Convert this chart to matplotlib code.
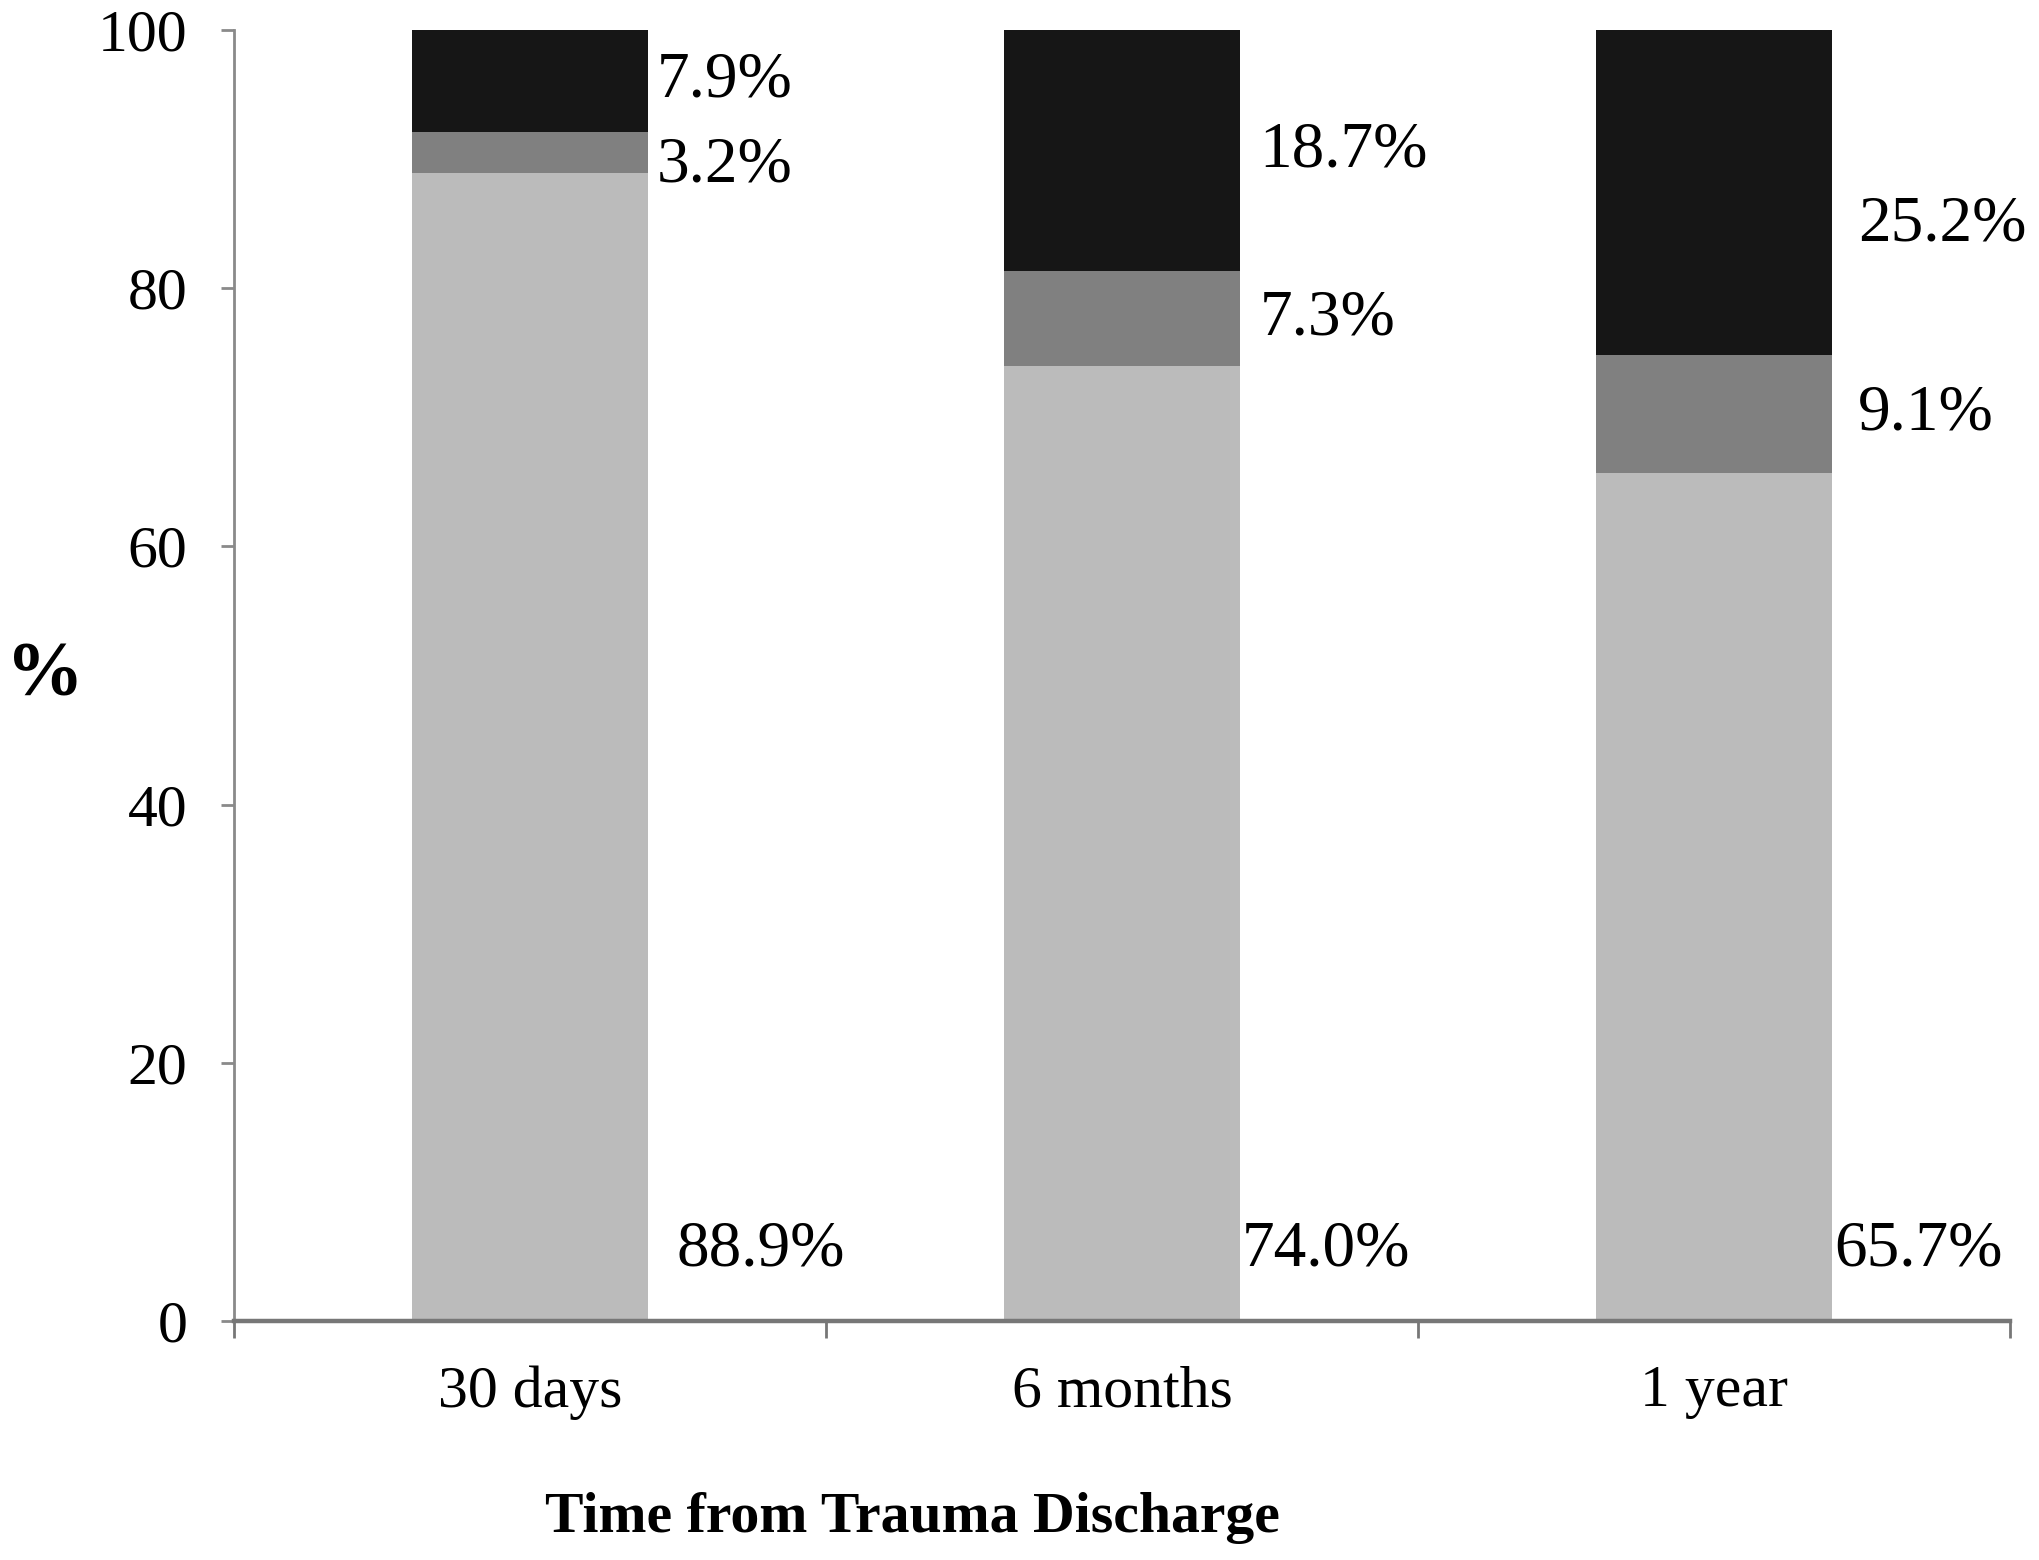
import matplotlib

matplotlib.use("Agg")
import matplotlib.pyplot as plt
import numpy as np

# stacked shares (%) per follow-up time, bottom to top
categories = ["30 days", "6 months", "1 year"]
light_vals = [88.9, 74.0, 65.7]
mid_vals = [3.2, 7.3, 9.1]
dark_vals = [7.9, 18.7, 25.2]
yticks = [0, 20, 40, 60, 80, 100]

plt.rcParams["font.family"] = ["Liberation Serif", "DejaVu Serif"]

fig = plt.figure(figsize=(10.2, 7.8), dpi=200)
ax = fig.add_axes([0.1147, 0.1532, 0.8706, 0.8276])

x = np.arange(len(categories))
light = np.array(light_vals)
mid = np.array(mid_vals)
dark = np.array(dark_vals)
width = 0.4

ax.bar(x, light, width, color="#bbbbbb")
ax.bar(x, mid, width, bottom=light, color="#808080")
ax.bar(x, dark, width, bottom=light + mid, color="#161616")

# value labels sit to the right of each bar
fs = 21.5
val_fs = 23.5
top_dx = [0.214, 0.232, 0.243]
bot_dx = [0.247, 0.203, 0.203]
dark_dy = [0.0, 0.0, -2.5]
for i in range(len(categories)):
    yc_dark = light[i] + mid[i] + dark[i] / 2 + dark_dy[i]
    yc_mid = light[i] + mid[i] / 2
    if i == 0:
        yc_mid -= 1.0
    ax.text(x[i] + top_dx[i], yc_dark, f"{dark[i]:.1f}%", fontsize=val_fs,
            ha="left", va="center")
    ax.text(x[i] + top_dx[i], yc_mid, f"{mid[i]:.1f}%", fontsize=val_fs,
            ha="left", va="center")
    ax.text(x[i] + bot_dx[i], 5.5, f"{light[i]:.1f}%", fontsize=val_fs,
            ha="left", va="center")

ax.set_xlim(-0.5, len(categories) - 0.5)
ax.set_ylim(0, 100)
ax.set_yticks(yticks)
ax.set_xticks(x)
ax.set_xticklabels(categories)
ax.set_xticks(np.arange(len(categories) + 1) - 0.5, minor=True)

for side in ("top", "right"):
    ax.spines[side].set_visible(False)
ax.spines["left"].set_color("#8a8a8a")
ax.spines["left"].set_linewidth(1.0)
ax.spines["bottom"].set_color("#777777")
ax.spines["bottom"].set_linewidth(1.6)

ax.tick_params(axis="y", direction="out", length=4.7, width=1.0,
               color="#8a8a8a", pad=12, labelsize=fs)
ax.tick_params(axis="x", which="major", length=0, pad=16, labelsize=fs)
ax.tick_params(axis="x", which="minor", direction="out", length=6,
               width=1.0, color="#777777")

fig.text(45 / 2040, 1 - 677 / 1560, "%", fontsize=28, fontweight="bold",
         ha="center", va="center")
fig.text(912 / 2040, 1 - 1518 / 1560, "Time from Trauma Discharge",
         fontsize=20.8, fontweight="bold", ha="center", va="center")

fig.savefig("out.png", dpi=200)
plt.close(fig)
